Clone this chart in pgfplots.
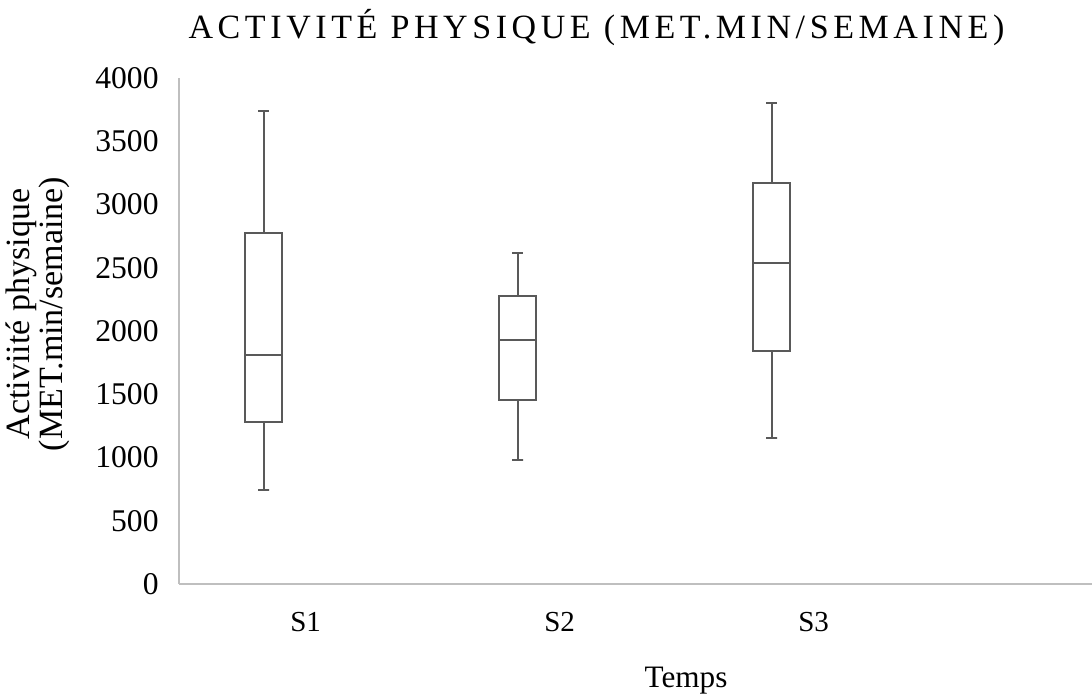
\documentclass[border=0pt]{standalone}
\usepackage{fontspec}
\setmainfont{Liberation Serif}
\usepackage{pgfplots}
\pgfplotsset{compat=1.18}
\definecolor{boxgray}{HTML}{595959}
\definecolor{axgray}{HTML}{BFBFBF}
\pgfplotsset{boxline/.style={boxgray, line width=0.9pt, line join=miter, mark=none, solid}}

\begin{document}
\begin{tikzpicture}
% 1 px of the reference = 0.5pt
\useasboundingbox (-89.5pt,-56pt) rectangle (456.5pt,292pt);
\begin{axis}[
    at={(0pt,0pt)}, anchor=south west,
    scale only axis,
    width=456.5pt, height=253pt,
    xmin=0.6665, xmax=4.261,
    ymin=0, ymax=4000,
    axis x line*=bottom, axis y line*=left,
    axis line style={-, draw=axgray, line width=1.3pt},
    major tick length=0pt,
    ytick={0,500,...,4000},
    xtick={1.165,2.165,3.165},
    xticklabels={S1,S2,S3},
    /pgf/number format/assume math mode=true,
    /pgf/number format/1000 sep={},
    tick label style={black},
    yticklabel style={font=\fontsize{15.8}{18}\selectfont, anchor=east, inner sep=0pt, xshift=-10pt},
    xticklabel style={font=\fontsize{14.5}{17}\selectfont, anchor=north, inner sep=0pt, yshift=-14pt},
    clip=false,
]
% S1: whiskers 745 / 3739, quartiles 1278 / 2775, median 1808
\addplot[boxline] coordinates {(0.927,1808) (1.073,1808) (1.073,2775) (0.927,2775) (0.927,1278) (1.073,1278) (1.073,1808)};
\addplot[boxline] coordinates {(0.9785,745) (1.0215,745) (1,745) (1,1278)};
\addplot[boxline] coordinates {(1,2775) (1,3739) (0.9785,3739) (1.0215,3739)};
% S2: whiskers 978 / 2619, quartiles 1455 / 2277, median 1926
\addplot[boxline] coordinates {(1.927,1926) (2.073,1926) (2.073,2277) (1.927,2277) (1.927,1455) (2.073,1455) (2.073,1926)};
\addplot[boxline] coordinates {(1.9785,978) (2.0215,978) (2,978) (2,1455)};
\addplot[boxline] coordinates {(2,2277) (2,2619) (1.9785,2619) (2.0215,2619)};
% S3: whiskers 1154 / 3800, quartiles 1844 / 3167, median 2535
\addplot[boxline] coordinates {(2.927,2535) (3.073,2535) (3.073,3167) (2.927,3167) (2.927,1844) (3.073,1844) (3.073,2535)};
\addplot[boxline] coordinates {(2.9785,1154) (3.0215,1154) (3,1154) (3,1844)};
\addplot[boxline] coordinates {(3,3167) (3,3800) (2.9785,3800) (3.0215,3800)};
\end{axis}
\node[anchor=base] at (208.75pt,272.5pt)
  {\fontsize{17}{20}\selectfont\addfontfeature{LetterSpace=13.5}ACTIVITÉ PHYSIQUE (MET.MIN/SEMAINE)};
\node[rotate=90, align=center, font=\fontsize{17}{13}\selectfont] at (-70.5pt,135pt)
  {Activiité physique\\(MET.min/semaine)};
\node[anchor=base, font=\fontsize{15.6}{18}\selectfont] at (253.5pt,-51.5pt) {Temps};
\end{tikzpicture}
\end{document}
